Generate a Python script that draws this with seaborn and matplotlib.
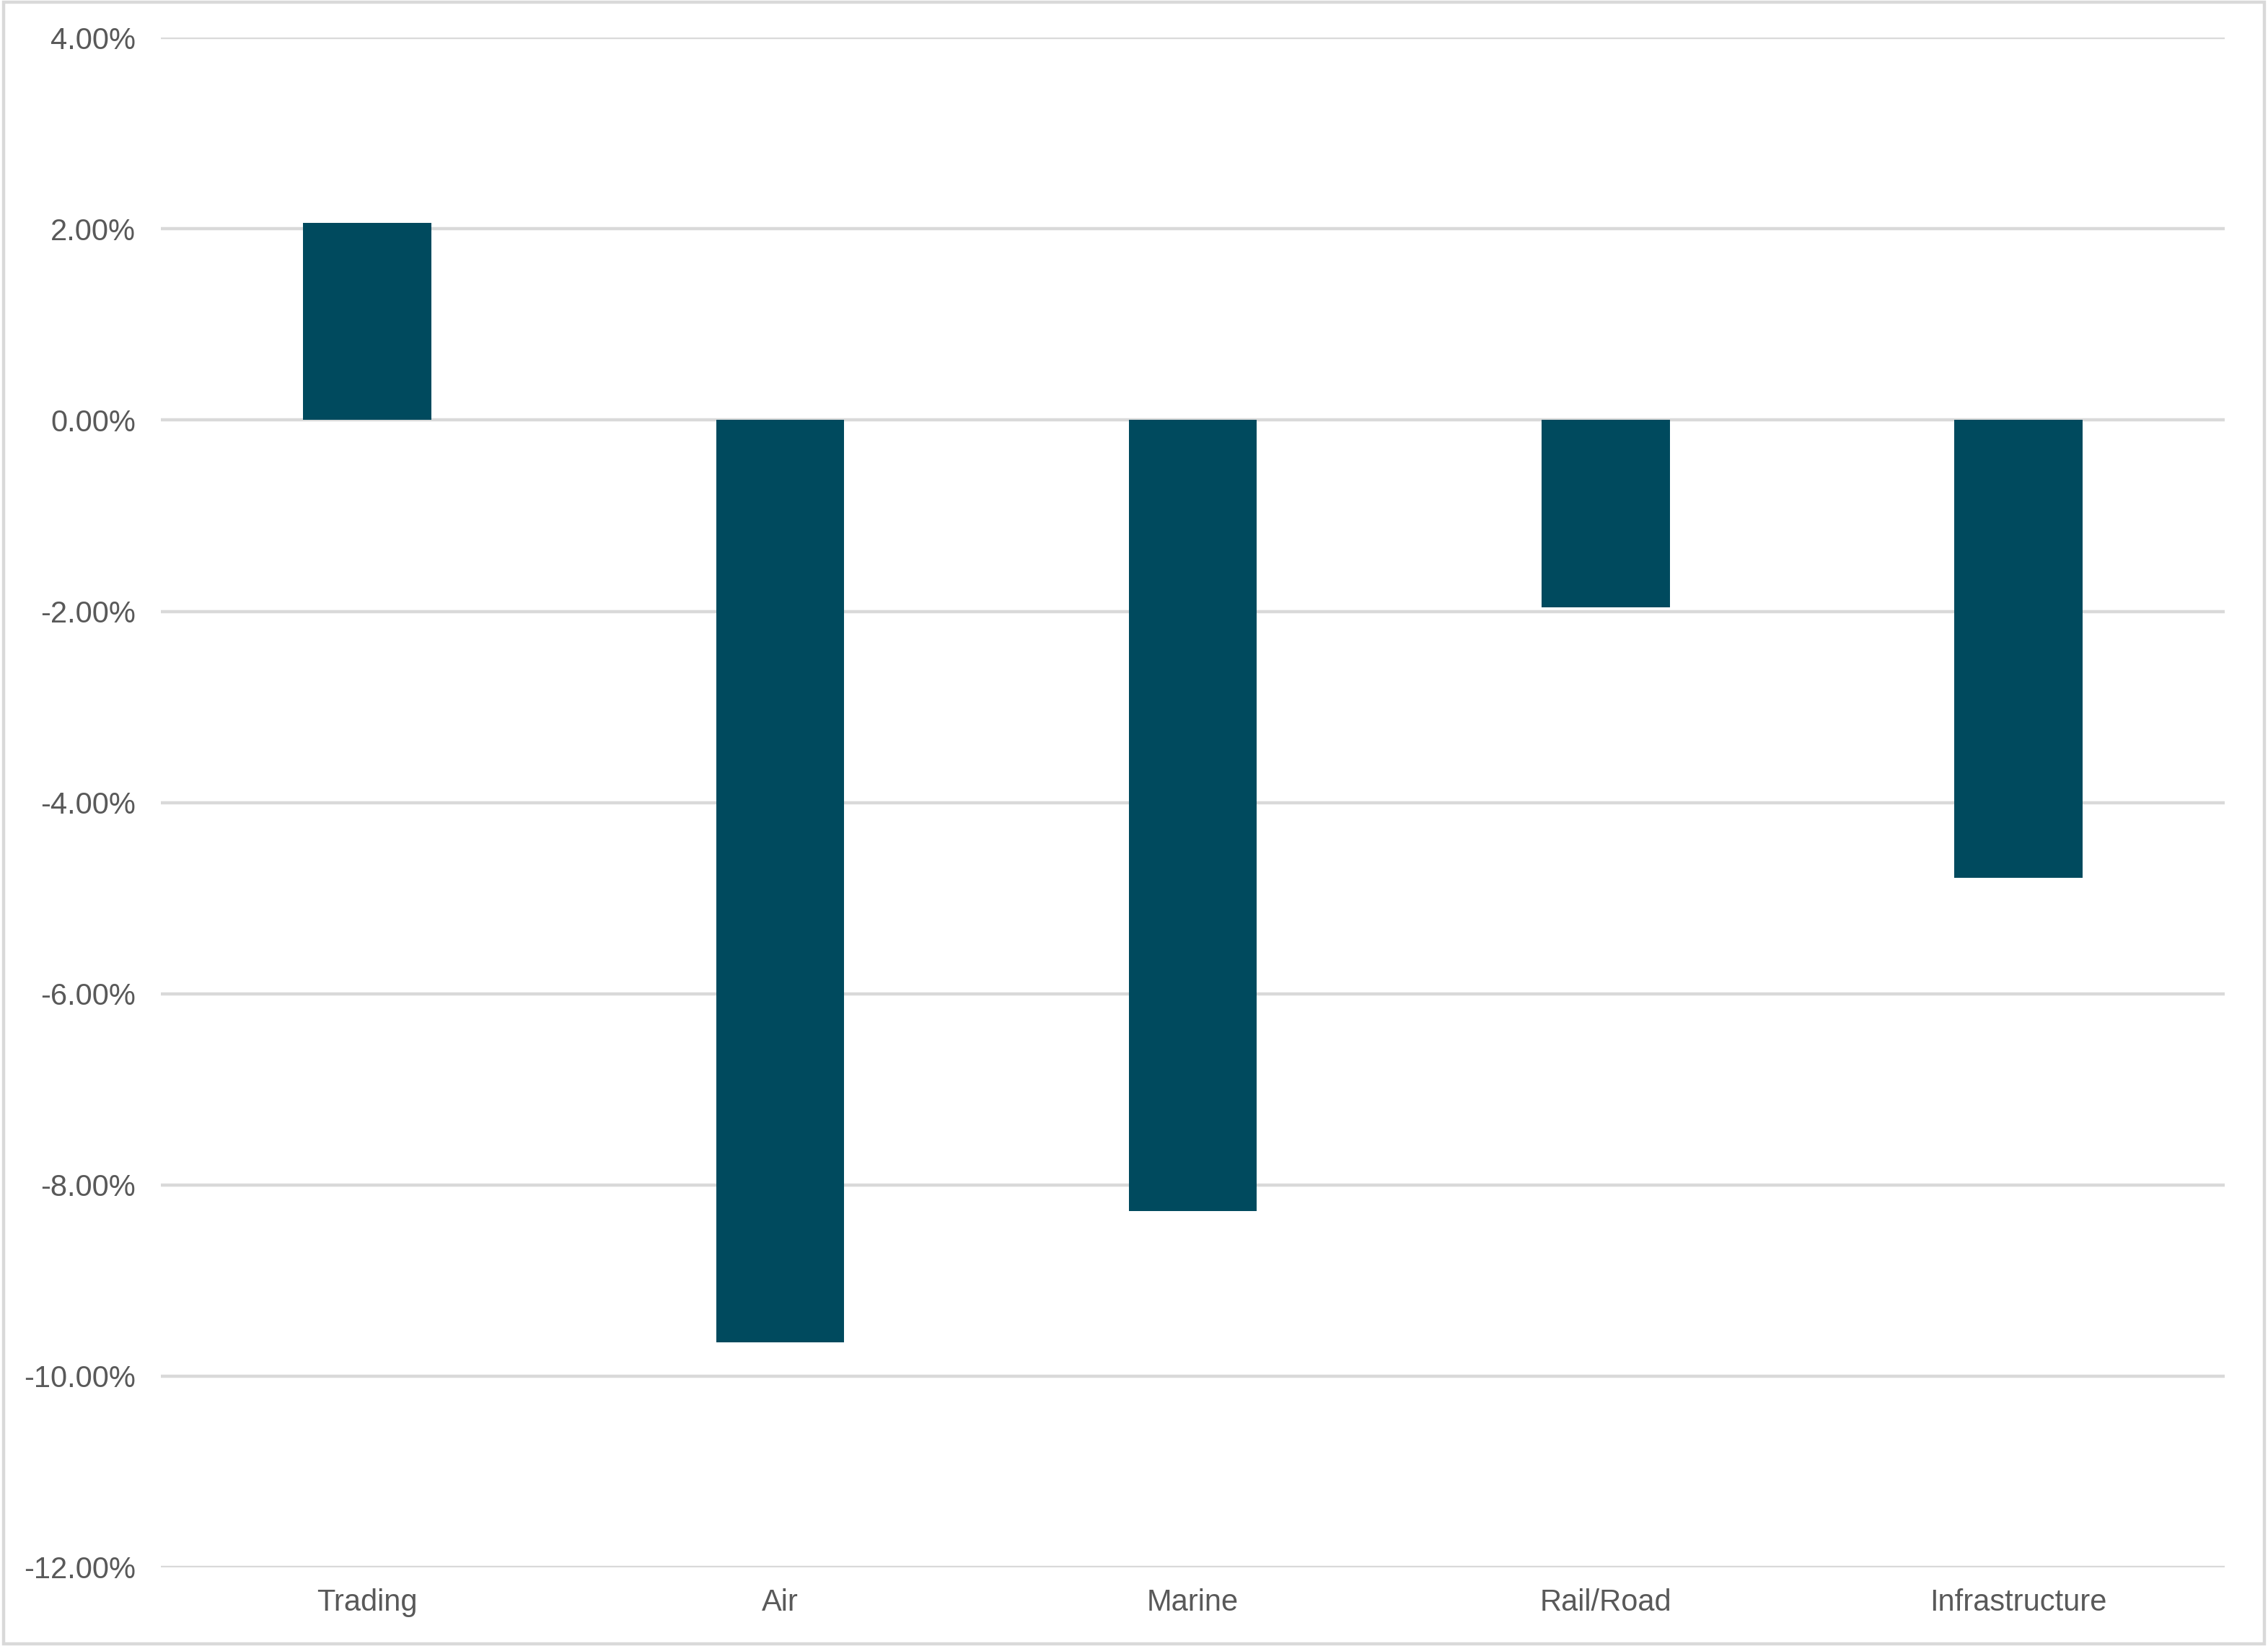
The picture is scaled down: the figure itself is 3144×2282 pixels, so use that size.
import matplotlib
matplotlib.use("Agg")
import matplotlib.pyplot as plt
import seaborn as sns
import pandas as pd
from matplotlib.ticker import FuncFormatter, MultipleLocator
from matplotlib.patches import Rectangle

categories = ["Trading", "Air", "Marine", "Rail/Road", "Infrastructure"]
values = [2.06, -9.65, -8.27, -1.96, -4.79]  # percent

sns.set_theme(style="white")
plt.rcParams['font.family'] = ['Liberation Sans', 'DejaVu Sans']

df = pd.DataFrame({"category": categories, "value": values})

fig = plt.figure(figsize=(15.72, 11.41), dpi=200)
ax = fig.add_axes([0.0709, 0.0478, 0.9101, 0.9293])

sns.barplot(data=df, x="category", y="value", color="#004A5E", width=0.31,
            saturation=1, linewidth=0, edgecolor="none", ax=ax, zorder=3)

ax.set_xlim(-0.5, 4.5)
ax.set_ylim(-12, 4)
ax.yaxis.set_major_locator(MultipleLocator(2))
ax.yaxis.set_major_formatter(FuncFormatter(lambda v, p: f"{v:.2f}%"))
ax.grid(axis="y", color="#D9D9D9", linewidth=1.6, zorder=0)
ax.set_axisbelow(True)
for s in ax.spines.values():
    s.set_visible(False)
ax.set_xlabel("")
ax.set_ylabel("")
ax.tick_params(axis="both", length=0, labelsize=15, colors="#595959")
ax.tick_params(axis="y", pad=12.5)
ax.tick_params(axis="x", pad=10.5)

fig.patches.append(Rectangle((0.0015, 0.0015), 0.997, 0.997, transform=fig.transFigure,
                             fill=False, edgecolor="#D9D9D9", linewidth=1.6))

fig.savefig("out.png", dpi=200, facecolor="white")
